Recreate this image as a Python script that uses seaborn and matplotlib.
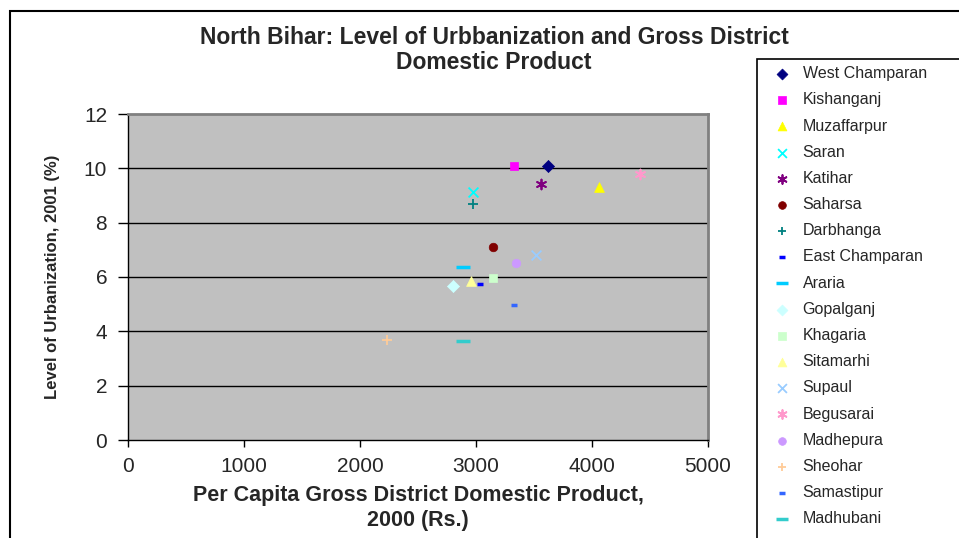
import matplotlib
matplotlib.use("Agg")
import matplotlib.pyplot as plt
import seaborn as sns
import pandas as pd
from matplotlib.patches import Rectangle

# Data
districts = [
    "West Champaran", "Kishanganj", "Muzaffarpur", "Saran", "Katihar",
    "Saharsa", "Darbhanga", "East Champaran", "Araria", "Gopalganj",
    "Khagaria", "Sitamarhi", "Supaul", "Begusarai", "Madhepura",
    "Sheohar", "Samastipur", "Madhubani",
]
gdp_per_capita = [
    3620, 3330, 4057, 2977, 3560,
    3149, 2977, 3034, 2888, 2799,
    3149, 2960, 3517, 4414, 3345,
    2229, 3330, 2888,
]
urbanization = [
    10.07, 10.08, 9.30, 9.12, 9.41,
    7.09, 8.70, 5.73, 6.36, 5.66,
    5.97, 5.84, 6.82, 9.78, 6.51,
    3.67, 4.98, 3.64,
]
colors = [
    "#000080", "#FF00FF", "#FFFF00", "#00FFFF", "#800080",
    "#800000", "#008080", "#0000FF", "#00CCFF", "#CCFFFF",
    "#CCFFCC", "#FFFF99", "#99CCFF", "#FF99CC", "#CC99FF",
    "#FFCC99", "#3366FF", "#33CCCC",
]
markers = [
    "D", "s", "^", "x", (6, 2, 0),
    "o", "+", "_", "_", "D",
    "s", "^", "x", (6, 2, 0), "o",
    "+", "_", "_",
]

df = pd.DataFrame({"district": districts, "gdp": gdp_per_capita, "urban": urbanization})

sns.set_style("white")
plt.rcParams["font.family"] = ["Liberation Sans", "DejaVu Sans"]

fig = plt.figure(figsize=(9.59, 5.38), dpi=100)
ax = fig.add_axes([128 / 959, 1 - 440 / 538, 580 / 959, 326 / 538])
ax.set_facecolor("#C0C0C0")

for i, row in df.iterrows():
    m = markers[i]
    c = colors[i]
    if m == "_":
        size = 90 if i in (8, 17) else 25
        sns.scatterplot(x=[row["gdp"]], y=[row["urban"]], ax=ax, marker=m,
                        color=c, edgecolor=c, s=size, linewidth=2.5, label=row["district"])
    elif m in ("x", "+") or isinstance(m, tuple):
        sns.scatterplot(x=[row["gdp"]], y=[row["urban"]], ax=ax, marker=m,
                        color=c, edgecolor=c, s=50, linewidth=1.3, label=row["district"])
    else:
        s = 50 if m == "^" else 38
        sns.scatterplot(x=[row["gdp"]], y=[row["urban"]], ax=ax, marker=m,
                        color=c, edgecolor=c, s=s, linewidth=0.5, label=row["district"])

ax.set_xlim(0, 5000)
ax.set_ylim(0, 12)
ax.set_xticks(range(0, 5001, 1000))
ax.set_yticks(range(0, 13, 2))
for yv in range(2, 12, 2):
    ax.axhline(yv, color="black", lw=1, zorder=0.5)

for side in ("top", "right"):
    ax.spines[side].set_color("#808080")
    ax.spines[side].set_linewidth(2)
for side in ("left", "bottom"):
    ax.spines[side].set_color("black")
    ax.spines[side].set_linewidth(1)
ax.tick_params(axis="y", direction="out", length=7, width=1, pad=8, labelsize=15, left=True, color="black")
ax.tick_params(axis="x", direction="out", length=5, width=1, pad=7, labelsize=15, bottom=True, color="black")

ax.set_xlabel("Per Capita Gross District Domestic Product,\n2000 (Rs.)",
              fontsize=15.5, fontweight="bold", labelpad=7, linespacing=1.2)
ax.set_ylabel("Level of Urbanization, 2001 (%)", fontsize=12, fontweight="bold", labelpad=17)

fig.text(494 / 959, 1 - 50 / 538,
         "North Bihar: Level of Urbbanization and Gross District\nDomestic Product",
         ha="center", va="center", fontsize=16.5, fontweight="bold", linespacing=1.1)

handles, labels = ax.get_legend_handles_labels()
ax.get_legend().remove()
leg = fig.legend(handles, labels, loc="upper left",
                 bbox_to_anchor=(757 / 959, 1 - 59 / 538),
                 fontsize=11.5, frameon=False,
                 labelspacing=0.7, handletextpad=0.2, handlelength=2.2,
                 borderpad=0.45, borderaxespad=0, markerscale=0.9)

# legend box runs past the right and bottom edges, as in the source chart
fig.patches.append(Rectangle((757 / 959, -0.1), 1, 1 - 59 / 538 + 0.1,
                             transform=fig.transFigure, fill=False,
                             edgecolor="black", lw=1.2))

# outer chart border
fig.patches.append(Rectangle((10 / 959, -0.1), 2, 1 - 11 / 538 + 0.1,
                             transform=fig.transFigure, fill=False,
                             edgecolor="black", lw=1.5))

fig.savefig("out.png", dpi=100)
